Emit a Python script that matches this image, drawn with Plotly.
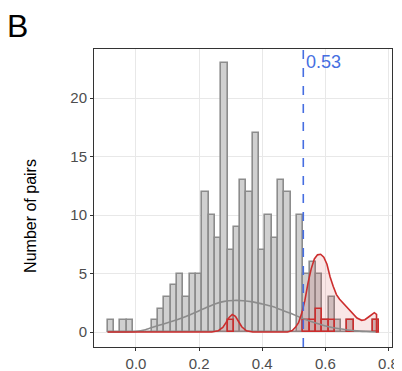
import plotly.graph_objects as go

# ---- data ----
bin_centers = [-0.08, -0.06, -0.04, -0.02, 0.00, 0.02, 0.04, 0.06, 0.08, 0.10,
               0.12, 0.14, 0.16, 0.18, 0.20, 0.22, 0.24, 0.26, 0.28, 0.30,
               0.32, 0.34, 0.36, 0.38, 0.40, 0.42, 0.44, 0.46, 0.48, 0.50,
               0.52, 0.54, 0.56, 0.58, 0.60, 0.62, 0.64, 0.66, 0.68, 0.70,
               0.72, 0.74, 0.76]
all_counts = [1, 0, 1, 1, 0, 0, 0, 1, 2, 3,
              4, 5, 3, 5, 5, 12, 10, 8, 23, 7,
              9, 13, 12, 17, 7, 10, 8, 13, 12, 0,
              10, 5, 6, 5, 1, 3, 1, 0, 1, 0,
              0, 0, 1]
red_centers = [0.30, 0.54, 0.56, 0.58, 0.60, 0.62, 0.68, 0.76]
red_counts = [1, 1, 1, 2, 1, 1, 1, 1]

gray_dens_x = [-0.09, -0.05, 0.00, 0.03, 0.07, 0.10, 0.13, 0.16, 0.19, 0.22,
               0.25, 0.28, 0.31, 0.34, 0.37, 0.40, 0.43, 0.46, 0.49, 0.52,
               0.55, 0.58, 0.61, 0.64, 0.67, 0.70, 0.73, 0.765]
gray_dens_y = [0.0, 0.0, 0.05, 0.2, 0.55, 0.8, 1.05, 1.35, 1.7, 2.05,
               2.4, 2.62, 2.7, 2.68, 2.58, 2.4, 2.2, 1.9, 1.6, 1.25,
               0.95, 0.68, 0.45, 0.3, 0.18, 0.1, 0.04, 0.0]

red_dens_x = [-0.09, 0.24, 0.26, 0.275, 0.285, 0.295, 0.305, 0.315, 0.325, 0.335,
              0.35, 0.37, 0.48, 0.495, 0.505, 0.515, 0.525, 0.535, 0.545, 0.555,
              0.565, 0.575, 0.585, 0.595, 0.605, 0.615, 0.625, 0.635, 0.645, 0.66,
              0.68, 0.70, 0.715, 0.725, 0.74, 0.755, 0.762, 0.762, 0.77]
red_dens_y = [0.0, 0.0, 0.1, 0.4, 0.8, 1.25, 1.5, 1.35, 0.9, 0.45,
              0.1, 0.0, 0.0, 0.12, 0.4, 0.8, 1.6, 2.7, 4.2, 5.4,
              6.25, 6.6, 6.65, 6.4, 5.8, 4.7, 3.9, 3.2, 2.8, 2.35,
              1.75, 1.2, 1.0, 1.05, 1.35, 1.65, 1.5, 0.0, 0.0]

threshold = [0.53]
threshold_label = "0.53"
y_title = "Number of pairs"

x_ticks = [0.0, 0.2, 0.4, 0.6, 0.8]
y_ticks = [0, 5, 10, 15, 20]

GRAY_FILL = "rgb(208,208,208)"
GRAY_LINE = "rgb(140,140,140)"
RED = "rgb(204,45,45)"
BLUE = "rgb(70,110,225)"
FONT = "Liberation Sans"

fig = go.Figure()

fig.add_trace(go.Bar(x=bin_centers, y=all_counts, width=0.02,
                     marker=dict(color=GRAY_FILL, line=dict(color=GRAY_LINE, width=1.6)),
                     showlegend=False, hoverinfo="skip"))

fig.add_trace(go.Scatter(x=red_dens_x, y=red_dens_y, mode="lines",
                         line=dict(color="rgba(0,0,0,0)", width=0),
                         fill="tozeroy", fillcolor="rgba(205,50,50,0.12)",
                         showlegend=False, hoverinfo="skip"))

fig.add_trace(go.Bar(x=red_centers, y=red_counts, width=0.02,
                     marker=dict(color="rgba(205,50,50,0.12)", line=dict(color=RED, width=1.6)),
                     showlegend=False, hoverinfo="skip"))

fig.add_trace(go.Scatter(x=gray_dens_x, y=gray_dens_y, mode="lines",
                         line=dict(color=GRAY_LINE, width=1.6, shape="spline", smoothing=0.6),
                         showlegend=False, hoverinfo="skip"))

fig.add_trace(go.Scatter(x=red_dens_x, y=red_dens_y, mode="lines",
                         line=dict(color=RED, width=1.6),
                         showlegend=False, hoverinfo="skip"))

fig.add_shape(type="line", xref="x", yref="paper", x0=threshold[0], x1=threshold[0],
              y0=0, y1=1, line=dict(color=BLUE, width=1.6, dash="dash"))

fig.add_annotation(x=threshold[0], y=1, xref="x", yref="paper", text=threshold_label,
                   showarrow=False, xanchor="left", yanchor="top", xshift=1, yshift=-1,
                   font=dict(color=BLUE, size=18, family=FONT))

fig.add_annotation(x=0, y=1, xref="paper", yref="paper", text="B", showarrow=False,
                   xanchor="left", yanchor="top", xshift=-89, yshift=43,
                   font=dict(color="black", size=32, family=FONT))

fig.add_annotation(x=0, y=0.44, xref="paper", yref="paper", text=y_title,
                   showarrow=False, textangle=-90, xanchor="center", yanchor="middle",
                   xshift=-63, font=dict(color="black", size=16, family=FONT))

axis_common = dict(showline=True, mirror=True, linecolor="rgb(51,51,51)", linewidth=1,
                   showgrid=True, gridcolor="rgb(232,232,232)", gridwidth=1.2,
                   zeroline=False, ticks="outside", ticklen=3, tickcolor="rgb(51,51,51)",
                   tickwidth=1, automargin=False,
                   tickfont=dict(size=15, color="rgb(77,77,77)", family=FONT))

# page body has an 8px margin, so the figure is sized/offset to compensate
fig.update_layout(
    width=394, height=363,
    margin=dict(l=86, r=10, t=41, b=24),
    plot_bgcolor="white", paper_bgcolor="white",
    barmode="overlay", bargap=0,
    xaxis=dict(range=[-0.133, 0.811], tickvals=x_ticks,
               ticktext=[f"{v:.1f}" for v in x_ticks], **axis_common),
    yaxis=dict(range=[-1.28, 24.2], tickvals=y_ticks, **axis_common),
)

fig.write_html("out.html")
